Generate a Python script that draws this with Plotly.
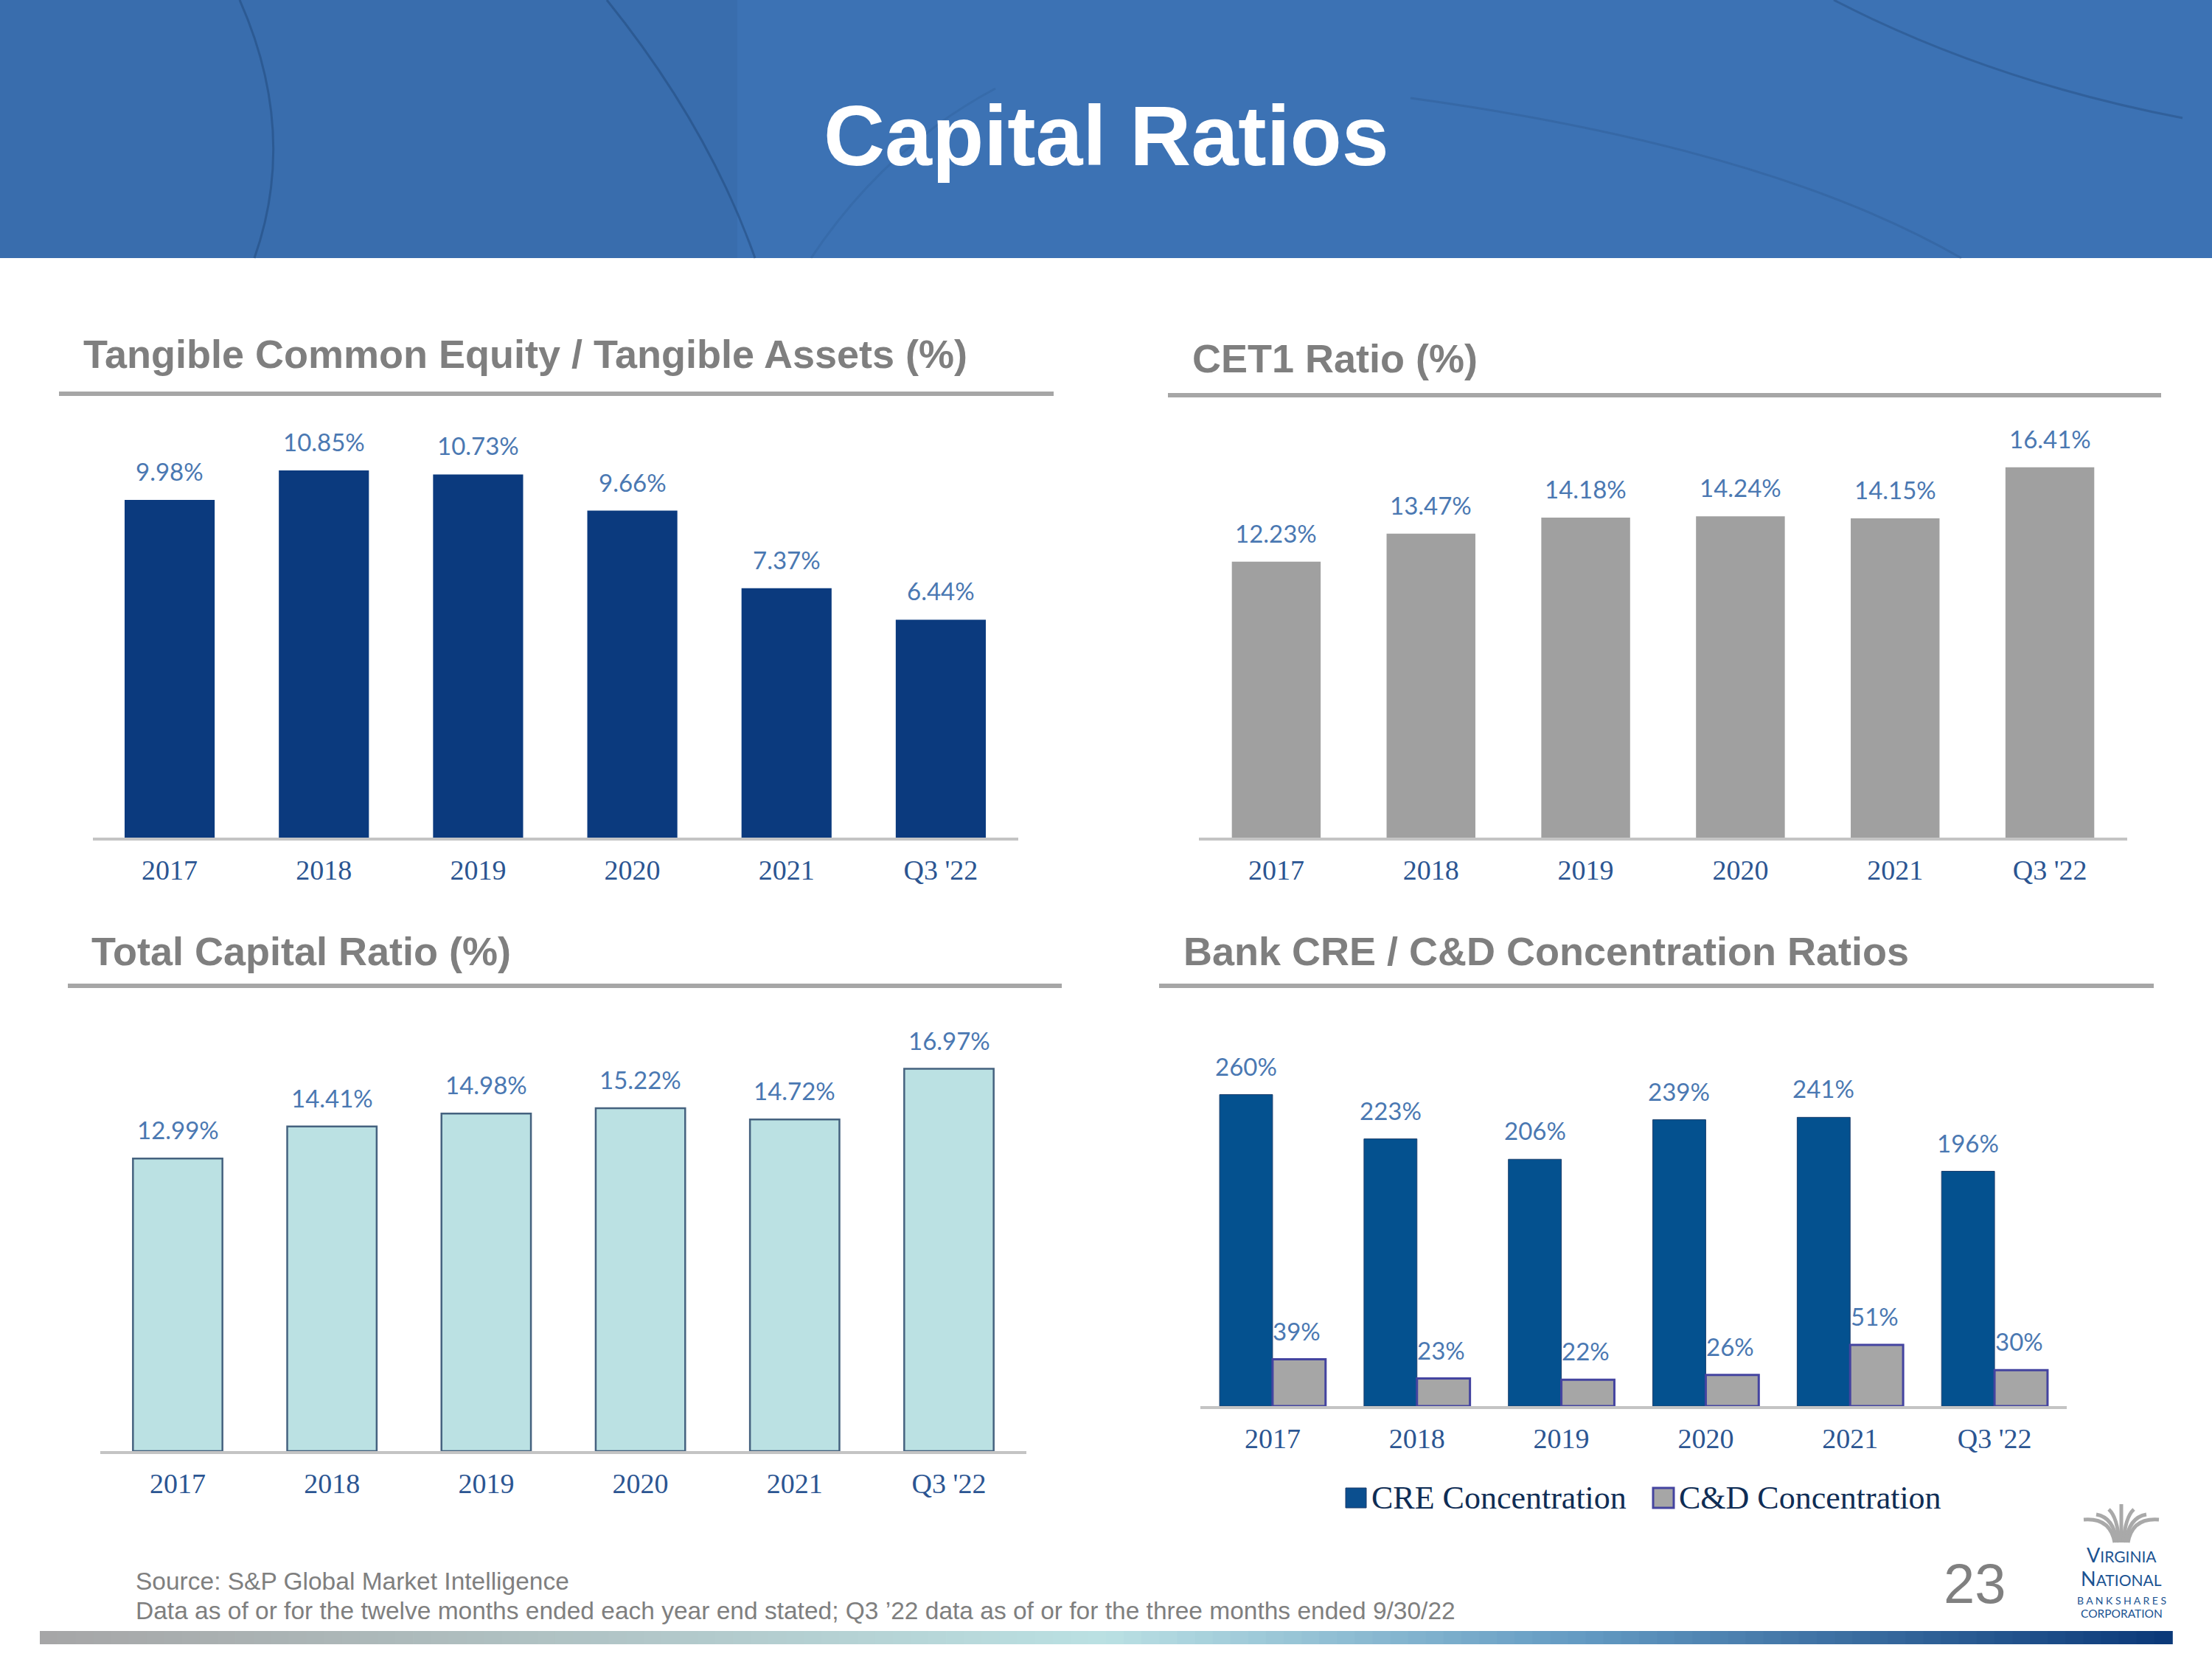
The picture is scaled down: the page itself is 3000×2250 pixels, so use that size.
import plotly.graph_objects as go

W, H = 3000, 2250

# ---------------- data ----------------
categories = ["2017", "2018", "2019", "2020", "2021", "Q3 '22"]
tce_ta = [9.98, 10.85, 10.73, 9.66, 7.37, 6.44]
cet1 = [12.23, 13.47, 14.18, 14.24, 14.15, 16.41]
total_capital = [12.99, 14.41, 14.98, 15.22, 14.72, 16.97]
cre_conc = [260, 223, 206, 239, 241, 196]
cd_conc = [39, 23, 22, 26, 51, 30]

titles = ["Tangible Common Equity / Tangible Assets (%)", "CET1 Ratio (%)",
          "Total Capital Ratio (%)", "Bank CRE / C&D Concentration Ratios"]
legend_names = ["CRE Concentration", "C&D Concentration"]

# ---------------- helpers ----------------
def px(x):
    return x / W

def py(y):
    return 1 - y / H

SANS = "Liberation Sans"
SERIF = "Liberation Serif"
LABEL_FONT = "Lato"
TITLE_GRAY = "#7f7f7f"
RULE_GRAY = "#a6a6a6"
TICK_BLUE = "#2b5592"
LABEL_BLUE = "#4a78b2"

fig = go.Figure()

# panel geometry (pixels): x-left, x-right, y-bottom(baseline), y-top, y-range max
panels = [
    dict(x0=125.5, x1=1380.5, yb=1136, yt=560, ymax=576 / 45.9),
    dict(x0=1626, x1=2885, yb=1136, yt=560, ymax=576 / 30.6),
    dict(x0=136.4, x1=1391.6, yb=1968, yt=1390, ymax=578 / 30.55),
    dict(x0=1628, x1=2803, yb=1907, yt=1390, ymax=517 / 1.625),
]

# ---------------- traces ----------------
fig.add_trace(go.Bar(x=categories, y=tce_ta, width=0.584, marker=dict(color="#0b3a7e", line=dict(width=0)),
                     xaxis="x", yaxis="y", showlegend=False, hoverinfo="x+y"))
fig.add_trace(go.Bar(x=categories, y=cet1, width=0.574, marker=dict(color="#a0a0a0", line=dict(width=0)),
                     xaxis="x2", yaxis="y2", showlegend=False, hoverinfo="x+y"))
fig.add_trace(go.Bar(x=categories, y=total_capital, width=0.58,
                     marker=dict(color="#bbe1e3", line=dict(color="#45627f", width=2.5)),
                     xaxis="x3", yaxis="y3", showlegend=False, hoverinfo="x+y"))
fig.add_trace(go.Bar(x=categories, y=cre_conc, width=0.367, offset=-0.367,
                     marker=dict(color="#04518f", line=dict(color="#1c3f6e", width=1)),
                     xaxis="x4", yaxis="y4", name=legend_names[0], showlegend=False, hoverinfo="x+y"))
fig.add_trace(go.Bar(x=categories, y=cd_conc, width=0.367, offset=0.0,
                     marker=dict(color="#a6a6a6", line=dict(color="#4444a0", width=3)),
                     xaxis="x4", yaxis="y4", name=legend_names[1], showlegend=False, hoverinfo="x+y"))

# ---------------- axes ----------------
layout_axes = {}
for i, p in enumerate(panels):
    sfx = "" if i == 0 else str(i + 1)
    layout_axes["xaxis" + sfx] = dict(
        domain=[px(p["x0"]), px(p["x1"])], anchor="y" + sfx, type="category",
        range=[-0.5, 5.5], showgrid=False, zeroline=False,
        showline=True, linecolor="#c4c4c4", linewidth=4,
        ticks="outside", ticklen=7, tickcolor="rgba(0,0,0,0)",
        tickfont=dict(family=SERIF, size=38, color=TICK_BLUE), fixedrange=True,
    )
    layout_axes["yaxis" + sfx] = dict(
        domain=[py(p["yb"]), py(p["yt"])], anchor="x" + sfx,
        range=[0, p["ymax"]], visible=False, fixedrange=True,
    )

annotations = []
shapes = []

# ---------------- data labels (positioned by category index on the category axis) ----------------
def add_labels(values, sfx, fmt, xshift=0):
    for idx, v in enumerate(values):
        annotations.append(dict(
            x=idx, y=v, xref="x" + sfx, yref="y" + sfx, text=fmt(v), showarrow=False,
            yanchor="middle", xanchor="center", yshift=39, xshift=xshift,
            font=dict(family=LABEL_FONT, size=33, color=LABEL_BLUE)))

add_labels(tce_ta, "", lambda v: f"{v:.2f}%")
add_labels(cet1, "2", lambda v: f"{v:.2f}%")
add_labels(total_capital, "3", lambda v: f"{v:.2f}%")
add_labels(cre_conc, "4", lambda v: f"{v:.0f}%", xshift=-36)
add_labels(cd_conc, "4", lambda v: f"{v:.0f}%", xshift=33)

# ---------------- header ----------------
shapes.append(dict(type="rect", xref="paper", yref="paper", x0=0, x1=1, y0=py(350), y1=1,
                   fillcolor="#3c72b4", line=dict(width=0), layer="below"))
shapes.append(dict(type="rect", xref="paper", yref="paper", x0=0, x1=px(1000), y0=py(350), y1=1,
                   fillcolor="rgba(40,70,120,0.10)", line=dict(width=0), layer="below"))
deco = [
    (f"M {px(325)},{py(0)} Q {px(405)},{py(180)} {px(345)},{py(350)}", 0.55),
    (f"M {px(823)},{py(0)} Q {px(960)},{py(170)} {px(1024)},{py(350)}", 0.55),
    (f"M {px(2487)},{py(0)} Q {px(2700)},{py(110)} {px(2960)},{py(160)}", 0.45),
    (f"M {px(1913)},{py(133)} Q {px(2400)},{py(200)} {px(2660)},{py(350)}", 0.25),
    (f"M {px(1100)},{py(350)} Q {px(1200)},{py(200)} {px(1350)},{py(120)}", 0.18),
]
for d, a in deco:
    shapes.append(dict(type="path", xref="paper", yref="paper", path=d,
                       line=dict(color=f"rgba(35,75,125,{a})", width=3), layer="below"))

annotations.append(dict(x=px(1500), y=py(184), xref="paper", yref="paper", text="<b>Capital Ratios</b>",
                        showarrow=False, xanchor="center", yanchor="middle",
                        font=dict(family=SANS, size=115, color="white")))

# ---------------- panel titles and rules ----------------
title_pos = [(111, 480), (1615, 486), (122, 1290), (1603, 1290)]
rules = [(80, 1429, 534), (1584, 2931, 536), (92, 1440, 1337), (1572, 2921, 1337)]
for t, (tx, ty), (r0, r1, ry) in zip(titles, title_pos, rules):
    annotations.append(dict(x=px(tx), y=py(ty), xref="paper", yref="paper", text=f"<b>{t}</b>",
                            showarrow=False, xanchor="left", yanchor="middle",
                            font=dict(family=SANS, size=54, color=TITLE_GRAY)))
    shapes.append(dict(type="line", xref="paper", yref="paper", x0=px(r0), x1=px(r1), y0=py(ry), y1=py(ry),
                       line=dict(color=RULE_GRAY, width=6)))

# ---------------- manual legend ----------------
legend_items = [(1825, "#0b4f8f", "#1a3a6a", 1), (2242, "#a6a6a6", "#4444a0", 3)]
for (lx, fc, lc, lw), name in zip(legend_items, legend_names):
    shapes.append(dict(type="rect", xref="paper", yref="paper", x0=px(lx), x1=px(lx + 28),
                       y0=py(2045), y1=py(2018), fillcolor=fc, line=dict(color=lc, width=lw)))
    annotations.append(dict(x=px(lx + 33), y=py(2031), xref="paper", yref="paper", text=name,
                            showarrow=False, xanchor="left", yanchor="middle",
                            font=dict(family=SERIF, size=44, color="#0f2d55")))

# ---------------- footer ----------------
annotations.append(dict(x=px(182), y=py(2144), xref="paper", yref="paper",
                        text="Source: S&P Global Market Intelligence", showarrow=False,
                        xanchor="left", yanchor="middle", font=dict(family=SANS, size=33.5, color=TITLE_GRAY)))
annotations.append(dict(x=px(182), y=py(2184), xref="paper", yref="paper",
                        text="Data as of or for the twelve months ended each year end stated; Q3 \u201922 data as of or for the three months ended 9/30/22",
                        showarrow=False, xanchor="left", yanchor="middle",
                        font=dict(family=SANS, size=33.5, color=TITLE_GRAY)))
annotations.append(dict(x=px(2678), y=py(2147), xref="paper", yref="paper", text="23", showarrow=False,
                        xanchor="center", yanchor="middle", font=dict(family=SANS, size=76, color="#808080")))

# gradient bar
stops = [(0.0, (166, 166, 166)), (0.5, (186, 224, 227)), (0.72, (100, 155, 195)), (1.0, (10, 56, 120))]
def grad(t):
    for (a, ca), (b, cb) in zip(stops[:-1], stops[1:]):
        if a <= t <= b:
            f = (t - a) / (b - a)
            return "rgb(%d,%d,%d)" % tuple(round(ca[k] + (cb[k] - ca[k]) * f) for k in range(3))
    return "rgb(10,56,120)"

gx0, gx1, nseg = 54, 2946, 120
for k in range(nseg):
    a = gx0 + (gx1 - gx0) * k / nseg
    b = gx0 + (gx1 - gx0) * (k + 1) / nseg + 0.8
    shapes.append(dict(type="rect", xref="paper", yref="paper", x0=px(a), x1=px(b), y0=py(2230), y1=py(2212),
                       fillcolor=grad((k + 0.5) / nseg), line=dict(width=0)))

# ---------------- logo ----------------
cx = 2877
for i in range(-3, 4):
    sx, sy = cx + i * 3, 2092
    ctrlx, ctrly = cx + i * 5, 2058
    ex, ey = cx + i * 17, 2040 + abs(i) * 7
    shapes.append(dict(type="path", xref="paper", yref="paper",
                       path=f"M {px(sx)},{py(sy)} Q {px(ctrlx)},{py(ctrly)} {px(ex)},{py(ey)}",
                       line=dict(color="#a9a9a9", width=5)))
LOGO_BLUE = "#1b5392"
logo_lines = [
    ("<span style='font-size:27px'>V</span>IRGINIA", 21, 2108),
    ("<span style='font-size:27px'>N</span>ATIONAL", 21, 2140),
    ("B A N K S H A R E S", 14, 2170),
    ("CORPORATION", 15.5, 2188),
]
for txt, sz, ly in logo_lines:
    annotations.append(dict(x=px(cx), y=py(ly), xref="paper", yref="paper", text=txt,
                            showarrow=False, xanchor="center", yanchor="middle",
                            font=dict(family="Lato", size=sz, color=LOGO_BLUE)))

fig.update_layout(
    width=W, height=H, margin=dict(l=0, r=0, t=0, b=0),
    paper_bgcolor="white", plot_bgcolor="rgba(0,0,0,0)",
    barmode="overlay", showlegend=False,
    annotations=annotations, shapes=shapes, **layout_axes,
)

fig.write_html("out.html", config={"displayModeBar": False})
